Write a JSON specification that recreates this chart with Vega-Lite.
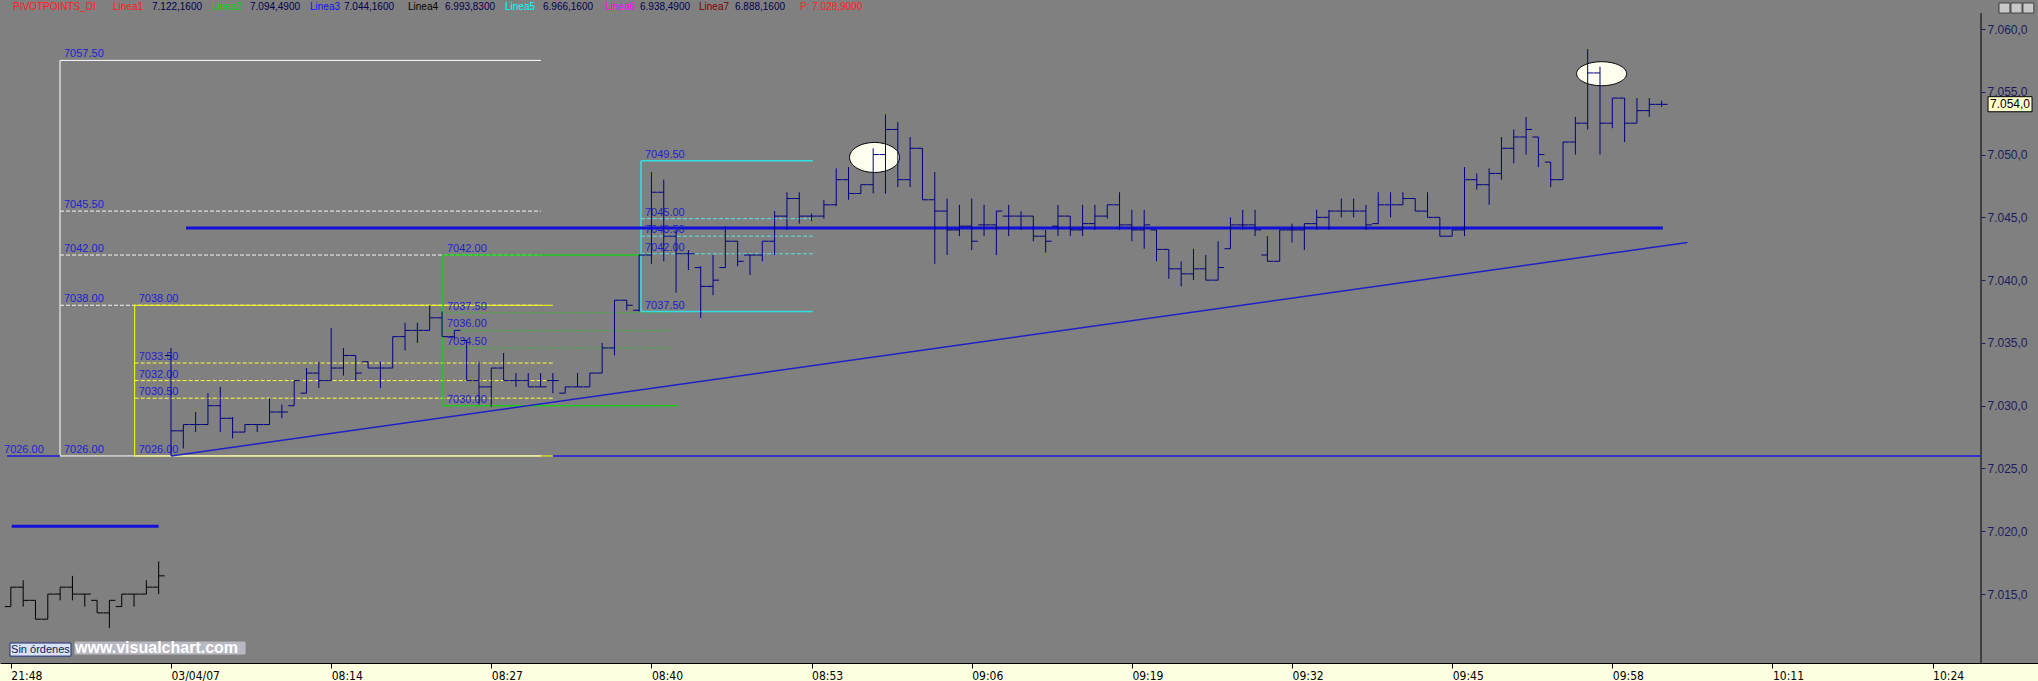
{
 "$schema": "https://vega.github.io/schema/vega-lite/v6.json",
 "width": 2038, "height": 663,
 "autosize": {"type": "none"},
 "padding": {"left": 0, "top": 0, "right": 0, "bottom": 18},
 "background": "#ffffe1",
 "config": {"view": {"fill": "#808080", "stroke": null}},
 "resolve": {"scale": {"color": "independent"}},
 "datasets": {
  "segs": [
   {"x1": -2.95, "x2": 31.0, "p1": 7026, "p2": 7026, "s": "yellow"},
   {"x1": -2.95, "x2": -2.95, "p1": 7026, "p2": 7038, "s": "yellow"},
   {"x1": -2.95, "x2": 31.0, "p1": 7038, "p2": 7038, "s": "yellow"},
   {"x1": -9.01, "x2": -9.01, "p1": 7026, "p2": 7057.5, "s": "white"},
   {"x1": -9.01, "x2": 30.03, "p1": 7057.5, "p2": 7057.5, "s": "white"},
   {"x1": -9.01, "x2": 30.03, "p1": 7026, "p2": 7026, "s": "white"},
   {"x1": -9.01, "x2": 30.03, "p1": 7045.5, "p2": 7045.5, "s": "whiteDash"},
   {"x1": -9.01, "x2": 30.03, "p1": 7042, "p2": 7042, "s": "whiteDash"},
   {"x1": -9.01, "x2": 30.03, "p1": 7038, "p2": 7038, "s": "whiteDash"},
   {"x1": -2.95, "x2": 31.0, "p1": 7033.4, "p2": 7033.4, "s": "yellowDash"},
   {"x1": -2.95, "x2": 31.0, "p1": 7032, "p2": 7032, "s": "yellowDash"},
   {"x1": -2.95, "x2": 31.0, "p1": 7030.6, "p2": 7030.6, "s": "yellowDash"},
   {"x1": 22.08, "x2": 22.08, "p1": 7030, "p2": 7042, "s": "green"},
   {"x1": 22.08, "x2": 38.15, "p1": 7042, "p2": 7042, "s": "green"},
   {"x1": 22.08, "x2": 41.16, "p1": 7030, "p2": 7030, "s": "green"},
   {"x1": 22.08, "x2": 40.6, "p1": 7037.4, "p2": 7037.4, "s": "greenDash"},
   {"x1": 22.08, "x2": 40.6, "p1": 7036, "p2": 7036, "s": "greenDash"},
   {"x1": 22.08, "x2": 40.6, "p1": 7034.6, "p2": 7034.6, "s": "greenDash"},
   {"x1": 38.15, "x2": 38.15, "p1": 7037.5, "p2": 7049.5, "s": "cyan"},
   {"x1": 38.15, "x2": 52.1, "p1": 7049.5, "p2": 7049.5, "s": "cyan"},
   {"x1": 38.15, "x2": 52.1, "p1": 7037.5, "p2": 7037.5, "s": "cyan"},
   {"x1": 38.15, "x2": 52.1, "p1": 7044.9, "p2": 7044.9, "s": "cyanDash"},
   {"x1": 38.15, "x2": 52.1, "p1": 7043.5, "p2": 7043.5, "s": "cyanDash"},
   {"x1": 38.15, "x2": 52.1, "p1": 7042.1, "p2": 7042.1, "s": "cyanDash"},
   {"x1": -13.3, "x2": -9.01, "p1": 7026, "p2": 7026, "s": "blue"},
   {"x1": 31.0, "x2": 146.93, "p1": 7026, "p2": 7026, "s": "blue"},
   {"x1": 0, "x2": 123.1, "p1": 7026, "p2": 7043.0, "s": "trend"},
   {"x1": -12.93, "x2": -1.0, "p1": 7020.4, "p2": 7020.4, "s": "blueThick"},
   {"x1": 1.22, "x2": 121.1, "p1": 7044.16, "p2": 7044.16, "s": "blueThick"},
   {"x1": 146.93, "x2": 146.93, "p1": 7009.51, "p2": 7061.27, "s": "axis"}
  ],
  "labels": [
   {"x": -13.88, "p": 7026, "t": "7026.00"},
   {"x": -9.01, "p": 7057.5, "t": "7057.50"},
   {"x": -9.01, "p": 7045.5, "t": "7045.50"},
   {"x": -9.01, "p": 7042, "t": "7042.00"},
   {"x": -9.01, "p": 7038, "t": "7038.00"},
   {"x": -9.01, "p": 7026, "t": "7026.00"},
   {"x": -2.95, "p": 7038, "t": "7038.00"},
   {"x": -2.95, "p": 7033.4, "t": "7033.50"},
   {"x": -2.95, "p": 7032, "t": "7032.00"},
   {"x": -2.95, "p": 7030.6, "t": "7030.50"},
   {"x": -2.95, "p": 7026, "t": "7026.00"},
   {"x": 22.08, "p": 7042, "t": "7042.00"},
   {"x": 22.08, "p": 7037.4, "t": "7037.50"},
   {"x": 22.08, "p": 7036, "t": "7036.00"},
   {"x": 22.08, "p": 7034.6, "t": "7034.50"},
   {"x": 22.08, "p": 7030, "t": "7030.00"},
   {"x": 38.15, "p": 7049.5, "t": "7049.50"},
   {"x": 38.15, "p": 7044.9, "t": "7045.00"},
   {"x": 38.15, "p": 7043.5, "t": "7043.50"},
   {"x": 38.15, "p": 7042.1, "t": "7042.00"},
   {"x": 38.15, "p": 7037.5, "t": "7037.50"}
  ],
  "header": [
   {"x": -12.826, "t": "PIVOTPOINTS_DI", "k": "red"},
   {"x": -4.708, "t": "Linea1", "k": "red"},
   {"x": -1.542, "t": "7.122,1600", "k": "val"},
   {"x": 3.328, "t": "Linea2", "k": "green"},
   {"x": 6.413, "t": "7.094,4900", "k": "val"},
   {"x": 11.283, "t": "Linea3", "k": "blue"},
   {"x": 14.043, "t": "7.044,1600", "k": "val"},
   {"x": 19.239, "t": "Linea4", "k": "black"},
   {"x": 22.242, "t": "6.993,8300", "k": "val"},
   {"x": 27.113, "t": "Linea5", "k": "cyan"},
   {"x": 30.197, "t": "6.966,1600", "k": "val"},
   {"x": 35.23, "t": "Linea6", "k": "magenta"},
   {"x": 38.071, "t": "6.938,4900", "k": "val"},
   {"x": 42.861, "t": "Linea7", "k": "maroon"},
   {"x": 45.783, "t": "6.888,1600", "k": "val"},
   {"x": 51.06, "t": "P: 7.028,9000", "k": "red"}
  ],
  "bars": [
   {"i": -13, "o": 7014.0, "h": 7015.55, "l": 7014.0, "c": 7015.55, "d": "prev"},
   {"i": -12, "o": 7015.55, "h": 7016.1, "l": 7014.0, "c": 7014.5, "d": "prev"},
   {"i": -11, "o": 7014.5, "h": 7014.5, "l": 7013.0, "c": 7013.0, "d": "prev"},
   {"i": -10, "o": 7013.0, "h": 7015.0, "l": 7013.0, "c": 7015.0, "d": "prev"},
   {"i": -9, "o": 7015.0, "h": 7015.55, "l": 7014.5, "c": 7015.55, "d": "prev"},
   {"i": -8, "o": 7015.55, "h": 7016.45, "l": 7014.5, "c": 7015.0, "d": "prev"},
   {"i": -7, "o": 7015.0, "h": 7015.0, "l": 7014.0, "c": 7015.0, "d": "prev"},
   {"i": -6, "o": 7014.5, "h": 7014.5, "l": 7013.5, "c": 7013.5, "d": "prev"},
   {"i": -5, "o": 7013.5, "h": 7014.5, "l": 7012.3, "c": 7014.5, "d": "prev"},
   {"i": -4, "o": 7014.0, "h": 7015.0, "l": 7014.0, "c": 7015.0, "d": "prev"},
   {"i": -3, "o": 7015.0, "h": 7015.0, "l": 7014.0, "c": 7015.0, "d": "prev"},
   {"i": -2, "o": 7015.0, "h": 7016.1, "l": 7015.0, "c": 7015.55, "d": "prev"},
   {"i": -1, "o": 7015.55, "h": 7017.6, "l": 7015.0, "c": 7016.45, "d": "prev"},
   {"i": 0, "o": 7034.0, "h": 7034.6, "l": 7026.0, "c": 7028.0, "d": "cur"},
   {"i": 1, "o": 7028.0, "h": 7028.5, "l": 7026.6, "c": 7028.5, "d": "cur"},
   {"i": 2, "o": 7028.5, "h": 7029.5, "l": 7027.9, "c": 7028.5, "d": "cur"},
   {"i": 3, "o": 7028.5, "h": 7031.0, "l": 7028.5, "c": 7030.0, "d": "cur"},
   {"i": 4, "o": 7030.0, "h": 7031.5, "l": 7027.9, "c": 7029.0, "d": "cur"},
   {"i": 5, "o": 7029.0, "h": 7029.1, "l": 7027.4, "c": 7027.9, "d": "cur"},
   {"i": 6, "o": 7027.9, "h": 7028.5, "l": 7027.9, "c": 7028.5, "d": "cur"},
   {"i": 7, "o": 7028.5, "h": 7028.5, "l": 7027.9, "c": 7028.5, "d": "cur"},
   {"i": 8, "o": 7028.5, "h": 7030.6, "l": 7028.5, "c": 7029.5, "d": "cur"},
   {"i": 9, "o": 7029.5, "h": 7030.1, "l": 7029.0, "c": 7029.5, "d": "cur"},
   {"i": 10, "o": 7030.0, "h": 7032.0, "l": 7030.0, "c": 7032.0, "d": "cur"},
   {"i": 11, "o": 7031.0, "h": 7033.0, "l": 7031.0, "c": 7032.6, "d": "cur"},
   {"i": 12, "o": 7032.6, "h": 7033.5, "l": 7031.4, "c": 7032.0, "d": "cur"},
   {"i": 13, "o": 7032.0, "h": 7036.2, "l": 7032.0, "c": 7033.0, "d": "cur"},
   {"i": 14, "o": 7033.0, "h": 7034.6, "l": 7032.4, "c": 7034.0, "d": "cur"},
   {"i": 15, "o": 7034.0, "h": 7034.0, "l": 7032.0, "c": 7032.6, "d": "cur"},
   {"i": 16, "o": 7033.5, "h": 7033.5, "l": 7033.0, "c": 7033.0, "d": "cur"},
   {"i": 17, "o": 7033.0, "h": 7033.5, "l": 7031.4, "c": 7033.0, "d": "cur"},
   {"i": 18, "o": 7033.0, "h": 7035.5, "l": 7033.0, "c": 7035.5, "d": "cur"},
   {"i": 19, "o": 7035.5, "h": 7036.6, "l": 7034.4, "c": 7036.0, "d": "cur"},
   {"i": 20, "o": 7036.0, "h": 7036.6, "l": 7035.0, "c": 7036.0, "d": "cur"},
   {"i": 21, "o": 7036.0, "h": 7038.0, "l": 7036.0, "c": 7037.0, "d": "cur"},
   {"i": 22, "o": 7037.0, "h": 7037.5, "l": 7035.5, "c": 7035.5, "d": "cur"},
   {"i": 23, "o": 7035.5, "h": 7036.0, "l": 7035.3, "c": 7036.0, "d": "cur"},
   {"i": 24, "o": 7035.2, "h": 7035.2, "l": 7032.0, "c": 7032.0, "d": "cur"},
   {"i": 25, "o": 7032.0, "h": 7033.5, "l": 7030.1, "c": 7031.5, "d": "cur"},
   {"i": 26, "o": 7031.5, "h": 7033.0, "l": 7029.9, "c": 7033.0, "d": "cur"},
   {"i": 27, "o": 7033.0, "h": 7034.2, "l": 7032.0, "c": 7032.0, "d": "cur"},
   {"i": 28, "o": 7032.0, "h": 7032.6, "l": 7031.5, "c": 7032.0, "d": "cur"},
   {"i": 29, "o": 7032.0, "h": 7032.6, "l": 7031.5, "c": 7031.5, "d": "cur"},
   {"i": 30, "o": 7031.5, "h": 7032.6, "l": 7031.5, "c": 7031.5, "d": "cur"},
   {"i": 31, "o": 7032.0, "h": 7032.6, "l": 7031.0, "c": 7032.0, "d": "cur"},
   {"i": 32, "o": 7031.0, "h": 7031.5, "l": 7031.0, "c": 7031.5, "d": "cur"},
   {"i": 33, "o": 7031.5, "h": 7032.6, "l": 7031.5, "c": 7031.5, "d": "cur"},
   {"i": 34, "o": 7031.5, "h": 7032.6, "l": 7031.5, "c": 7032.6, "d": "cur"},
   {"i": 35, "o": 7032.6, "h": 7035.0, "l": 7032.6, "c": 7034.6, "d": "cur"},
   {"i": 36, "o": 7034.6, "h": 7038.4, "l": 7034.0, "c": 7038.4, "d": "cur"},
   {"i": 37, "o": 7038.4, "h": 7038.4, "l": 7037.6, "c": 7038.0, "d": "cur"},
   {"i": 38, "o": 7037.6, "h": 7042.0, "l": 7037.5, "c": 7042.0, "d": "cur"},
   {"i": 39, "o": 7042.0, "h": 7048.6, "l": 7041.3, "c": 7047.0, "d": "cur"},
   {"i": 40, "o": 7047.0, "h": 7048.0, "l": 7041.5, "c": 7043.5, "d": "cur"},
   {"i": 41, "o": 7043.5, "h": 7044.0, "l": 7039.0, "c": 7042.1, "d": "cur"},
   {"i": 42, "o": 7042.1, "h": 7042.4, "l": 7040.8, "c": 7042.1, "d": "cur"},
   {"i": 43, "o": 7041.0, "h": 7041.1, "l": 7037.0, "c": 7039.5, "d": "cur"},
   {"i": 44, "o": 7039.5, "h": 7042.0, "l": 7038.8, "c": 7040.0, "d": "cur"},
   {"i": 45, "o": 7041.0, "h": 7044.3, "l": 7041.0, "c": 7043.1, "d": "cur"},
   {"i": 46, "o": 7043.1, "h": 7043.1, "l": 7041.1, "c": 7041.5, "d": "cur"},
   {"i": 47, "o": 7042.0, "h": 7042.0, "l": 7040.4, "c": 7042.0, "d": "cur"},
   {"i": 48, "o": 7042.0, "h": 7043.1, "l": 7041.5, "c": 7043.1, "d": "cur"},
   {"i": 49, "o": 7043.1, "h": 7045.5, "l": 7042.0, "c": 7045.1, "d": "cur"},
   {"i": 50, "o": 7045.1, "h": 7047.0, "l": 7044.0, "c": 7046.5, "d": "cur"},
   {"i": 51, "o": 7046.5, "h": 7047.0, "l": 7044.5, "c": 7045.1, "d": "cur"},
   {"i": 52, "o": 7045.1, "h": 7045.3, "l": 7044.7, "c": 7045.1, "d": "cur"},
   {"i": 53, "o": 7045.1, "h": 7046.4, "l": 7044.9, "c": 7046.0, "d": "cur"},
   {"i": 54, "o": 7046.0, "h": 7048.9, "l": 7045.9, "c": 7048.0, "d": "cur"},
   {"i": 55, "o": 7048.0, "h": 7049.0, "l": 7046.4, "c": 7046.9, "d": "cur"},
   {"i": 56, "o": 7046.9, "h": 7047.6, "l": 7046.9, "c": 7047.6, "d": "cur"},
   {"i": 57, "o": 7047.6, "h": 7050.5, "l": 7046.9, "c": 7050.0, "d": "cur"},
   {"i": 58, "o": 7050.0, "h": 7053.2, "l": 7046.9, "c": 7052.0, "d": "cur"},
   {"i": 59, "o": 7052.0, "h": 7052.6, "l": 7047.4, "c": 7048.0, "d": "cur"},
   {"i": 60, "o": 7048.0, "h": 7051.4, "l": 7047.4, "c": 7050.5, "d": "cur"},
   {"i": 61, "o": 7050.5, "h": 7050.5, "l": 7046.4, "c": 7046.4, "d": "cur"},
   {"i": 62, "o": 7046.4, "h": 7048.6, "l": 7041.3, "c": 7045.5, "d": "cur"},
   {"i": 63, "o": 7045.5, "h": 7046.5, "l": 7042.0, "c": 7044.0, "d": "cur"},
   {"i": 64, "o": 7044.0, "h": 7046.0, "l": 7043.5, "c": 7044.3, "d": "cur"},
   {"i": 65, "o": 7044.3, "h": 7046.5, "l": 7042.4, "c": 7043.1, "d": "cur"},
   {"i": 66, "o": 7044.4, "h": 7046.0, "l": 7043.5, "c": 7044.4, "d": "cur"},
   {"i": 67, "o": 7044.4, "h": 7045.5, "l": 7042.0, "c": 7045.5, "d": "cur"},
   {"i": 68, "o": 7045.1, "h": 7046.0, "l": 7043.5, "c": 7045.1, "d": "cur"},
   {"i": 69, "o": 7045.1, "h": 7045.5, "l": 7044.0, "c": 7045.1, "d": "cur"},
   {"i": 70, "o": 7045.1, "h": 7045.1, "l": 7043.1, "c": 7043.5, "d": "cur"},
   {"i": 71, "o": 7043.5, "h": 7044.0, "l": 7042.2, "c": 7043.1, "d": "cur"},
   {"i": 72, "o": 7044.3, "h": 7046.0, "l": 7043.5, "c": 7045.1, "d": "cur"},
   {"i": 73, "o": 7045.1, "h": 7045.1, "l": 7043.5, "c": 7044.0, "d": "cur"},
   {"i": 74, "o": 7044.0, "h": 7046.0, "l": 7043.5, "c": 7044.5, "d": "cur"},
   {"i": 75, "o": 7044.5, "h": 7046.0, "l": 7044.0, "c": 7045.1, "d": "cur"},
   {"i": 76, "o": 7045.1, "h": 7046.0, "l": 7044.9, "c": 7046.0, "d": "cur"},
   {"i": 77, "o": 7046.0, "h": 7047.0, "l": 7044.0, "c": 7044.4, "d": "cur"},
   {"i": 78, "o": 7044.4, "h": 7045.6, "l": 7043.1, "c": 7044.0, "d": "cur"},
   {"i": 79, "o": 7044.0, "h": 7045.6, "l": 7042.5, "c": 7044.4, "d": "cur"},
   {"i": 80, "o": 7044.0, "h": 7044.0, "l": 7041.5, "c": 7042.45, "d": "cur"},
   {"i": 81, "o": 7042.45, "h": 7042.45, "l": 7040.1, "c": 7040.9, "d": "cur"},
   {"i": 82, "o": 7040.9, "h": 7041.5, "l": 7039.5, "c": 7040.5, "d": "cur"},
   {"i": 83, "o": 7040.5, "h": 7042.5, "l": 7040.0, "c": 7040.9, "d": "cur"},
   {"i": 84, "o": 7040.9, "h": 7042.0, "l": 7040.0, "c": 7040.0, "d": "cur"},
   {"i": 85, "o": 7040.0, "h": 7043.1, "l": 7040.0, "c": 7041.0, "d": "cur"},
   {"i": 86, "o": 7042.5, "h": 7045.0, "l": 7042.5, "c": 7044.4, "d": "cur"},
   {"i": 87, "o": 7044.4, "h": 7045.6, "l": 7044.0, "c": 7044.4, "d": "cur"},
   {"i": 88, "o": 7044.4, "h": 7045.6, "l": 7043.5, "c": 7044.0, "d": "cur"},
   {"i": 89, "o": 7042.0, "h": 7043.5, "l": 7041.5, "c": 7041.5, "d": "cur"},
   {"i": 90, "o": 7041.5, "h": 7044.0, "l": 7041.5, "c": 7044.0, "d": "cur"},
   {"i": 91, "o": 7044.0, "h": 7044.5, "l": 7043.0, "c": 7044.0, "d": "cur"},
   {"i": 92, "o": 7044.0, "h": 7044.5, "l": 7042.4, "c": 7044.5, "d": "cur"},
   {"i": 93, "o": 7044.5, "h": 7045.6, "l": 7044.0, "c": 7045.0, "d": "cur"},
   {"i": 94, "o": 7045.0, "h": 7045.6, "l": 7044.0, "c": 7045.5, "d": "cur"},
   {"i": 95, "o": 7045.5, "h": 7046.5, "l": 7045.0, "c": 7045.5, "d": "cur"},
   {"i": 96, "o": 7045.5, "h": 7046.5, "l": 7045.0, "c": 7045.5, "d": "cur"},
   {"i": 97, "o": 7045.5, "h": 7046.0, "l": 7044.0, "c": 7044.4, "d": "cur"},
   {"i": 98, "o": 7044.5, "h": 7047.0, "l": 7044.5, "c": 7046.0, "d": "cur"},
   {"i": 99, "o": 7046.0, "h": 7047.0, "l": 7045.0, "c": 7046.0, "d": "cur"},
   {"i": 100, "o": 7046.0, "h": 7047.0, "l": 7046.0, "c": 7046.5, "d": "cur"},
   {"i": 101, "o": 7046.5, "h": 7046.5, "l": 7045.5, "c": 7045.5, "d": "cur"},
   {"i": 102, "o": 7045.5, "h": 7047.0, "l": 7045.0, "c": 7045.0, "d": "cur"},
   {"i": 103, "o": 7045.0, "h": 7045.0, "l": 7043.5, "c": 7043.5, "d": "cur"},
   {"i": 104, "o": 7043.5, "h": 7044.0, "l": 7043.5, "c": 7044.0, "d": "cur"},
   {"i": 105, "o": 7044.0, "h": 7049.0, "l": 7043.5, "c": 7048.0, "d": "cur"},
   {"i": 106, "o": 7048.0, "h": 7048.5, "l": 7047.2, "c": 7047.6, "d": "cur"},
   {"i": 107, "o": 7047.6, "h": 7048.9, "l": 7046.0, "c": 7048.5, "d": "cur"},
   {"i": 108, "o": 7048.5, "h": 7051.4, "l": 7048.0, "c": 7050.5, "d": "cur"},
   {"i": 109, "o": 7050.5, "h": 7052.0, "l": 7049.3, "c": 7051.4, "d": "cur"},
   {"i": 110, "o": 7051.4, "h": 7053.0, "l": 7050.0, "c": 7052.0, "d": "cur"},
   {"i": 111, "o": 7051.4, "h": 7051.4, "l": 7049.0, "c": 7050.0, "d": "cur"},
   {"i": 112, "o": 7049.4, "h": 7049.4, "l": 7047.4, "c": 7048.0, "d": "cur"},
   {"i": 113, "o": 7048.0, "h": 7051.0, "l": 7048.0, "c": 7051.0, "d": "cur"},
   {"i": 114, "o": 7051.0, "h": 7053.0, "l": 7050.0, "c": 7052.5, "d": "cur"},
   {"i": 115, "o": 7052.5, "h": 7058.4, "l": 7052.0, "c": 7056.5, "d": "cur"},
   {"i": 116, "o": 7056.5, "h": 7057.0, "l": 7050.0, "c": 7052.5, "d": "cur"},
   {"i": 117, "o": 7052.5, "h": 7054.5, "l": 7052.1, "c": 7054.5, "d": "cur"},
   {"i": 118, "o": 7054.5, "h": 7054.5, "l": 7051.0, "c": 7052.5, "d": "cur"},
   {"i": 119, "o": 7052.5, "h": 7054.5, "l": 7052.5, "c": 7053.5, "d": "cur"},
   {"i": 120, "o": 7053.5, "h": 7054.5, "l": 7053.0, "c": 7054.0, "d": "cur"},
   {"i": 121, "o": 7054.0, "h": 7054.3, "l": 7053.8, "c": 7054.0, "d": "cur"}
  ]
 },
 "layer": [
  {
   "data": {"name": "segs"},
   "transform": [{"filter": {"field": "s", "oneOf": ["whiteDash", "yellowDash", "greenDash", "cyanDash"]}}],
   "mark": {"type": "rule", "strokeDash": [4, 2], "strokeWidth": 1},
   "encoding": {
    "x": {"field": "x1", "type": "quantitative", "title": null,
     "scale": {"domain": [-13.881, 151.555], "nice": false, "zero": false},
     "axis": {"orient": "bottom", "values": [-13, 0, 13, 26, 39, 52, 65, 78, 91, 104, 117, 130, 143],
      "grid": false, "domain": true, "domainColor": "#000000", "domainWidth": 1,
      "ticks": true, "tickColor": "#000000", "tickSize": 5, "tickWidth": 1,
      "labelAlign": "left", "labelBaseline": "top", "labelPadding": 2, "labelOverlap": false,
      "labelFont": "DejaVu Sans Condensed, Liberation Sans Narrow, sans-serif", "labelFontSize": 12, "labelColor": "#000000",
      "labelExpr": "datum.value < 0 ? '21:48' : datum.value == 0 ? '03/04/07' : timeFormat(datetime(2007, 3, 4, 8, 1 + datum.value), '%H:%M')"}},
    "x2": {"field": "x2"},
    "y": {"field": "p1", "type": "quantitative", "title": null,
     "scale": {"domain": [7009.51, 7062.31], "nice": false, "zero": false},
     "axis": {"orient": "right", "offset": -57, "values": [7015, 7020, 7025, 7030, 7035, 7040, 7045, 7050, 7055, 7060],
      "grid": false, "domain": false, "ticks": true, "tickColor": "#202060", "tickSize": 4,
      "labelAlign": "left", "labelBaseline": "middle", "labelPadding": 2, "labelOverlap": false,
      "labelFont": "Liberation Sans", "labelFontSize": 12, "labelColor": "#1c1c5c",
      "labelExpr": "replace(replace(replace(format(datum.value, ',.1f'), ',', '#'), '.', ','), '#', '.')"}},
    "y2": {"field": "p2"},
    "color": {"field": "s", "type": "nominal", "legend": null,
     "scale": {"domain": ["whiteDash", "yellowDash", "greenDash", "cyanDash"], "range": ["#f4f4f4", "#ffff40", "#40b040", "#60e0e0"]}}
   }
  },
  {
   "data": {"name": "segs"},
   "transform": [{"filter": {"field": "s", "oneOf": ["yellow", "white", "axis"]}}],
   "mark": {"type": "rule", "strokeWidth": 1},
   "encoding": {
    "x": {"field": "x1", "type": "quantitative", "title": null, "scale": {"domain": [-13.881, 151.555], "nice": false, "zero": false}},
    "x2": {"field": "x2"},
    "y": {"field": "p1", "type": "quantitative", "title": null, "scale": {"domain": [7009.51, 7062.31], "nice": false, "zero": false}},
    "y2": {"field": "p2"},
    "color": {"field": "s", "type": "nominal", "legend": null,
     "scale": {"domain": ["yellow", "white", "axis"], "range": ["#ffff00", "#ffffff", "#000000"]}}
   }
  },
  {
   "data": {"name": "segs"},
   "transform": [{"filter": {"field": "s", "oneOf": ["green", "cyan", "blue", "trend"]}}],
   "mark": {"type": "rule", "strokeWidth": 1.5},
   "encoding": {
    "x": {"field": "x1", "type": "quantitative", "title": null, "scale": {"domain": [-13.881, 151.555], "nice": false, "zero": false}},
    "x2": {"field": "x2"},
    "y": {"field": "p1", "type": "quantitative", "title": null, "scale": {"domain": [7009.51, 7062.31], "nice": false, "zero": false}},
    "y2": {"field": "p2"},
    "color": {"field": "s", "type": "nominal", "legend": null,
     "scale": {"domain": ["green", "cyan", "blue", "trend"], "range": ["#20c820", "#30e0e0", "#1c1cd8", "#2020c8"]}}
   }
  },
  {
   "data": {"name": "segs"},
   "transform": [{"filter": {"field": "s", "oneOf": ["blueThick"]}}],
   "mark": {"type": "rule", "strokeWidth": 3, "color": "#1010d8"},
   "encoding": {
    "x": {"field": "x1", "type": "quantitative", "title": null, "scale": {"domain": [-13.881, 151.555], "nice": false, "zero": false}},
    "x2": {"field": "x2"},
    "y": {"field": "p1", "type": "quantitative", "title": null, "scale": {"domain": [7009.51, 7062.31], "nice": false, "zero": false}},
    "y2": {"field": "p2"}
   }
  },
  {
   "data": {"values": [{"x": 57.11, "p": 7049.77}]},
   "mark": {"type": "point", "shape": "M-1,0A1,0.6,0,1,1,1,0A1,0.6,0,1,1,-1,0Z", "size": 2500, "filled": true, "fill": "#fffff0", "stroke": "#000000", "strokeWidth": 1, "opacity": 1, "fillOpacity": 1},
   "encoding": {
    "x": {"field": "x", "type": "quantitative", "title": null, "scale": {"domain": [-13.881, 151.555], "nice": false, "zero": false}},
    "y": {"field": "p", "type": "quantitative", "title": null, "scale": {"domain": [7009.51, 7062.31], "nice": false, "zero": false}}
   }
  },
  {
   "data": {"values": [{"x": 116.13, "p": 7056.44}]},
   "mark": {"type": "point", "shape": "M-1,0A1,0.48,0,1,1,1,0A1,0.48,0,1,1,-1,0Z", "size": 2500, "filled": true, "fill": "#fffff0", "stroke": "#000000", "strokeWidth": 1, "opacity": 1, "fillOpacity": 1},
   "encoding": {
    "x": {"field": "x", "type": "quantitative", "title": null, "scale": {"domain": [-13.881, 151.555], "nice": false, "zero": false}},
    "y": {"field": "p", "type": "quantitative", "title": null, "scale": {"domain": [7009.51, 7062.31], "nice": false, "zero": false}}
   }
  },
  {
   "data": {"name": "labels"},
   "mark": {"type": "text", "align": "left", "baseline": "alphabetic", "dx": 4, "dy": -3, "font": "Liberation Sans", "fontSize": 11, "color": "#1f1fd0"},
   "encoding": {
    "x": {"field": "x", "type": "quantitative", "title": null, "scale": {"domain": [-13.881, 151.555], "nice": false, "zero": false}},
    "y": {"field": "p", "type": "quantitative", "title": null, "scale": {"domain": [7009.51, 7062.31], "nice": false, "zero": false}},
    "text": {"field": "t"}
   }
  },
  {
   "data": {"name": "bars"},
   "mark": {"type": "rule", "strokeWidth": 1},
   "encoding": {
    "x": {"field": "i", "type": "quantitative", "title": null, "scale": {"domain": [-13.881, 151.555], "nice": false, "zero": false}},
    "y": {"field": "l", "type": "quantitative", "title": null, "scale": {"domain": [7009.51, 7062.31], "nice": false, "zero": false}},
    "y2": {"field": "h"},
    "color": {"field": "d", "type": "nominal", "legend": null, "scale": {"domain": ["prev", "cur"], "range": ["#000000", "#000080"]}}
   }
  },
  {
   "data": {"name": "bars"},
   "mark": {"type": "rule", "strokeWidth": 1, "xOffset": -6, "x2Offset": 0},
   "encoding": {
    "x": {"field": "i", "type": "quantitative", "title": null, "scale": {"domain": [-13.881, 151.555], "nice": false, "zero": false}},
    "x2": {"field": "i"},
    "y": {"field": "o", "type": "quantitative", "title": null, "scale": {"domain": [7009.51, 7062.31], "nice": false, "zero": false}},
    "color": {"field": "d", "type": "nominal", "legend": null, "scale": {"domain": ["prev", "cur"], "range": ["#000000", "#000080"]}}
   }
  },
  {
   "data": {"name": "bars"},
   "mark": {"type": "rule", "strokeWidth": 1, "xOffset": 0, "x2Offset": 6},
   "encoding": {
    "x": {"field": "i", "type": "quantitative", "title": null, "scale": {"domain": [-13.881, 151.555], "nice": false, "zero": false}},
    "x2": {"field": "i"},
    "y": {"field": "c", "type": "quantitative", "title": null, "scale": {"domain": [7009.51, 7062.31], "nice": false, "zero": false}},
    "color": {"field": "d", "type": "nominal", "legend": null, "scale": {"domain": ["prev", "cur"], "range": ["#000000", "#000080"]}}
   }
  },
  {
   "data": {"name": "header"},
   "transform": [{"calculate": "7061.79", "as": "p"}],
   "mark": {"type": "text", "align": "left", "baseline": "middle", "font": "Liberation Sans", "fontSize": 10},
   "encoding": {
    "x": {"field": "x", "type": "quantitative", "title": null, "scale": {"domain": [-13.881, 151.555], "nice": false, "zero": false}},
    "y": {"field": "p", "type": "quantitative", "title": null, "scale": {"domain": [7009.51, 7062.31], "nice": false, "zero": false}},
    "text": {"field": "t"},
    "color": {"field": "k", "type": "nominal", "legend": null,
     "scale": {"domain": ["red", "val", "green", "blue", "black", "cyan", "magenta", "maroon"],
      "range": ["#ff2020", "#000050", "#10d010", "#1010ff", "#000000", "#00ffff", "#ff00ff", "#800000"]}}
   }
  },
  {
   "data": {"values": [
    {"x1": -13.07, "x2": -8.12, "p1": 7010.06, "p2": 7011.10, "b": "sin"},
    {"x1": -7.79, "x2": 6.01, "p1": 7010.22, "p2": 7011.18, "b": "www"},
    {"x1": 147.5, "x2": 151.07, "p1": 7053.41, "p2": 7054.61, "b": "price"},
    {"x1": 148.39, "x2": 149.28, "p1": 7061.27, "p2": 7062.07, "b": "btn"},
    {"x1": 149.36, "x2": 150.26, "p1": 7061.27, "p2": 7062.07, "b": "btn"},
    {"x1": 150.33, "x2": 151.22, "p1": 7061.27, "p2": 7062.07, "b": "btn"}
   ]},
   "mark": {"type": "rect", "strokeWidth": 1},
   "encoding": {
    "x": {"field": "x1", "type": "quantitative", "title": null, "scale": {"domain": [-13.881, 151.555], "nice": false, "zero": false}},
    "x2": {"field": "x2"},
    "y": {"field": "p1", "type": "quantitative", "title": null, "scale": {"domain": [7009.51, 7062.31], "nice": false, "zero": false}},
    "y2": {"field": "p2"},
    "fill": {"field": "b", "type": "nominal", "legend": null, "scale": {"domain": ["sin", "www", "price", "btn"], "range": ["#d8e4f0", "#b8b8c2", "#ffffc8", "#c8c8c8"]}},
    "stroke": {"field": "b", "type": "nominal", "legend": null, "scale": {"domain": ["sin", "www", "price", "btn"], "range": ["#203080", "#b8b8c2", "#000000", "#404040"]}}
   }
  },
  {
   "data": {"values": [
    {"x": -10.6, "p": 7010.58, "t": "Sin órdenes", "k": "sin"},
    {"x": 149.28, "p": 7054.0, "t": "7.054,0", "k": "price"}
   ]},
   "mark": {"type": "text", "align": "center", "baseline": "middle", "font": "Liberation Sans", "fontSize": 11},
   "encoding": {
    "x": {"field": "x", "type": "quantitative", "title": null, "scale": {"domain": [-13.881, 151.555], "nice": false, "zero": false}},
    "y": {"field": "p", "type": "quantitative", "title": null, "scale": {"domain": [7009.51, 7062.31], "nice": false, "zero": false}},
    "text": {"field": "t"},
    "size": {"field": "k", "type": "nominal", "legend": null, "scale": {"type": "ordinal", "domain": ["sin", "price"], "range": [11, 12]}},
    "color": {"field": "k", "type": "nominal", "legend": null, "scale": {"domain": ["sin", "price"], "range": ["#102060", "#000000"]}}
   }
  },
  {
   "data": {"values": [{"x": -7.79, "p": 7010.70, "t": "www.visualchart.com"}]},
   "mark": {"type": "text", "align": "left", "baseline": "middle", "font": "Liberation Sans", "fontSize": 16, "fontWeight": "bold", "color": "#ffffff"},
   "encoding": {
    "x": {"field": "x", "type": "quantitative", "title": null, "scale": {"domain": [-13.881, 151.555], "nice": false, "zero": false}},
    "y": {"field": "p", "type": "quantitative", "title": null, "scale": {"domain": [7009.51, 7062.31], "nice": false, "zero": false}},
    "text": {"field": "t"}
   }
  }
 ]
}
